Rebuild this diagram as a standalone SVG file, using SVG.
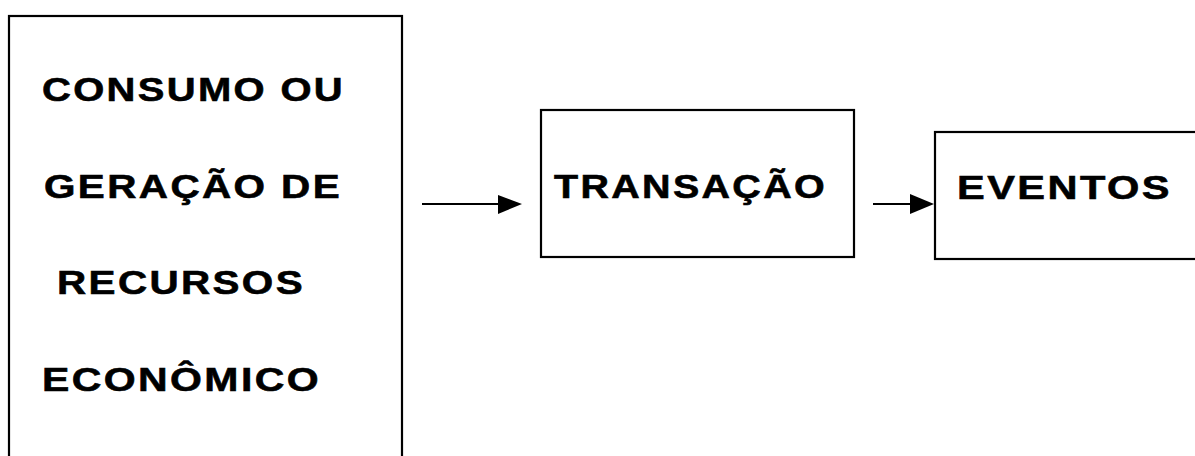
<svg xmlns="http://www.w3.org/2000/svg" width="1195" height="456" viewBox="0 0 1195 456">
  <style>
    .box { fill: #ffffff; stroke: #000000; stroke-width: 2.2; }
    .label { font-family: "Liberation Sans", Arial, sans-serif; font-weight: bold; font-size: 34px; letter-spacing: 2px; fill: #000000; stroke: #000000; stroke-width: 0.6; }
    .link { stroke: #000000; stroke-width: 2.2; fill: none; }
    .head { fill: #000000; stroke: none; }
  </style>
  <rect width="1195" height="456" fill="#ffffff"/>

  <g id="node-consumo">
    <rect class="box" x="9" y="16" width="393" height="460"/>
    <text class="label" x="42" y="101" textLength="303" lengthAdjust="spacingAndGlyphs">CONSUMO OU</text>
    <text class="label" x="44" y="198" textLength="298" lengthAdjust="spacingAndGlyphs">GERAÇÃO DE</text>
    <text class="label" x="57" y="294" textLength="248" lengthAdjust="spacingAndGlyphs">RECURSOS</text>
    <text class="label" x="42" y="391" textLength="279" lengthAdjust="spacingAndGlyphs">ECONÔMICO</text>
  </g>

  <g id="node-transacao">
    <rect class="box" x="541" y="110" width="313" height="147"/>
    <text class="label" x="554" y="198" textLength="273" lengthAdjust="spacingAndGlyphs">TRANSAÇÃO</text>
  </g>

  <g id="node-eventos">
    <rect class="box" x="935" y="132" width="300" height="127"/>
    <text class="label" x="957" y="199" textLength="215" lengthAdjust="spacingAndGlyphs">EVENTOS</text>
  </g>

  <g id="connectors">
    <line class="link" x1="422" y1="204" x2="501" y2="204"/>
    <polygon class="head" points="498,195 522,204 498,214"/>
    <line class="link" x1="873" y1="204" x2="912" y2="204"/>
    <polygon class="head" points="910,194 934,204 910,214"/>
  </g>
</svg>
